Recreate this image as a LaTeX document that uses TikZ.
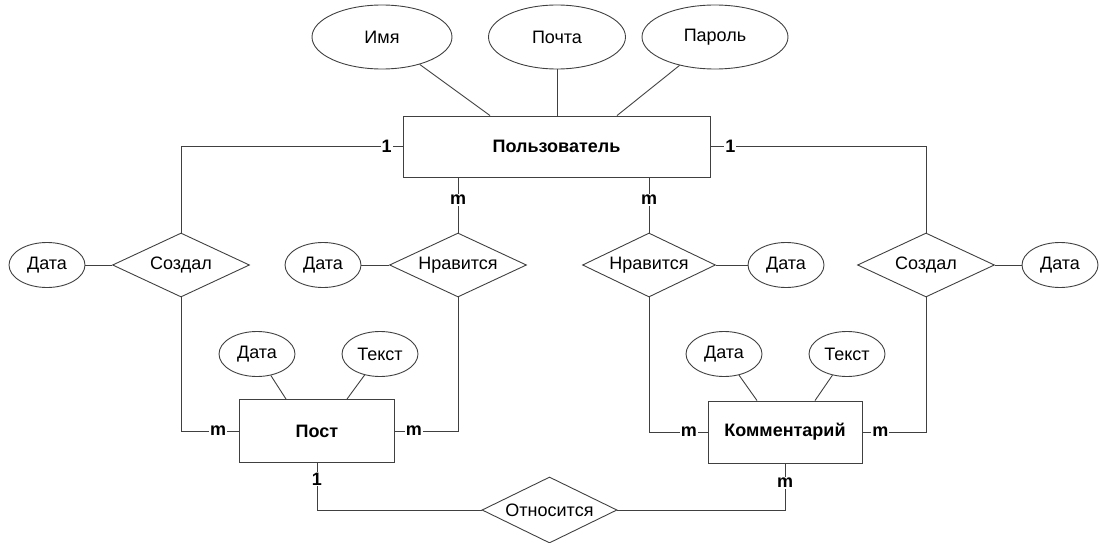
\documentclass[tikz,border=0pt]{standalone}
\usepackage{fontspec}
\setmainfont{Liberation Sans}
\usetikzlibrary{shapes.geometric, calc}

\newcommand{\erfont}{\fontsize{18}{21}\selectfont}

\tikzset{
  entity/.style={draw=black!75, line width=0.9pt, fill=white, inner sep=0pt, font=\erfont\bfseries},
  attr/.style={ellipse, draw=black!75, line width=0.9pt, inner sep=0pt, font=\erfont,
               minimum width=140pt, minimum height=64pt},
  attrsmall/.style={attr, minimum width=76pt, minimum height=45pt},
  relship/.style={diamond, draw=black!75, line width=0.9pt, inner sep=0pt, aspect=2.1, font=\erfont,
                  minimum width=137pt, minimum height=64pt},
  card/.style={fill=white, text=black, inner sep=1pt, font=\erfont\bfseries},
  link/.style={black!75, line width=0.9pt},
}

\begin{document}
\begin{tikzpicture}[x=1pt, y=-1pt]
  \useasboundingbox (0,0) rectangle (1100,543);

  % ── User and its attributes ──
  \node[entity, minimum width=307pt, minimum height=61pt] (user) at (556.5,146.5) {Пользователь};
  \node[attr] (name) at (382,37) {Имя};
  \node[attr, minimum width=137pt] (mail) at (557,37) {Почта};
  \node[attr, minimum width=146pt] (pass) at (715,37) {Пароль};

  % ── Relationships to user ──
  \node[relship] (creatL) at (181,265) {Создал};
  \node[relship] (likeL)  at (458,265) {Нравится};
  \node[relship, minimum width=133pt] (likeR)  at (649,265) {Нравится};
  \node[relship] (creatR) at (926,265) {Создал};
  \node[attrsmall] (dateCL) at (47,265)   {Дата};
  \node[attrsmall] (dateLL) at (323,265)  {Дата};
  \node[attrsmall] (dateLR) at (786,265)  {Дата};
  \node[attrsmall] (dateCR) at (1060,265) {Дата};

  % ── Post and comment ──
  \node[entity, minimum width=155pt, minimum height=63pt] (post) at (317,431) {Пост};
  \node[entity, minimum width=154pt, minimum height=62pt] (comm) at (785,432) {Комментарий};
  \node[attrsmall] (postDate) at (257,354) {Дата};
  \node[attrsmall] (postText) at (380,354) {Текст};
  \node[attrsmall] (commDate) at (724,354) {Дата};
  \node[attrsmall] (commText) at (847,354) {Текст};
  \node[relship, minimum width=135pt, minimum height=66pt] (refers) at (549.5,510) {Относится};

  % Attribute links
  \draw[link] (name) -- ([xshift=-66.5pt]user.north);
  \draw[link] (mail) -- (mail |- user.north);
  \draw[link] (pass) -- ([xshift=60.5pt]user.north);
  \draw[link] (dateCL) -- (creatL);
  \draw[link] (dateLL) -- (likeL);
  \draw[link] (likeR) -- (dateLR);
  \draw[link] (creatR) -- (dateCR);
  \draw[link] (postDate) -- ([xshift=-31pt]post.north);
  \draw[link] (postText) -- ([xshift=30pt]post.north);
  \draw[link] (commDate) -- ([xshift=-28pt]comm.north);
  \draw[link] (commText) -- ([xshift=30pt]comm.north);

  % Relationship links with cardinalities
  \draw[link] (user.west) -| (creatL.north) node[card, pos=0.036] {1};
  \draw[link] (user.east) -| (creatR.north) node[card, pos=0.046] {1};
  \draw[link] (likeL.north) -- (likeL.north |- user.south) node[card, pos=0.59] {m};
  \draw[link] (likeR.north) -- (likeR.north |- user.south) node[card, pos=0.59] {m};
  \draw[link] (creatL.south) |- (post.west) node[card, pos=0.82] {m};
  \draw[link] (likeL.south) |- (post.east) node[card, pos=0.85] {m};
  \draw[link] (likeR.south) |- (comm.west) node[card, pos=0.84] {m};
  \draw[link] (creatR.south) |- (comm.east) node[card, pos=0.86] {m};
  \draw[link] (post.south) |- (refers.west) node[card, pos=0.17] {1};
  \draw[link] (comm.south) |- (refers.east) node[card, pos=0.21] {m};
\end{tikzpicture}
\end{document}
